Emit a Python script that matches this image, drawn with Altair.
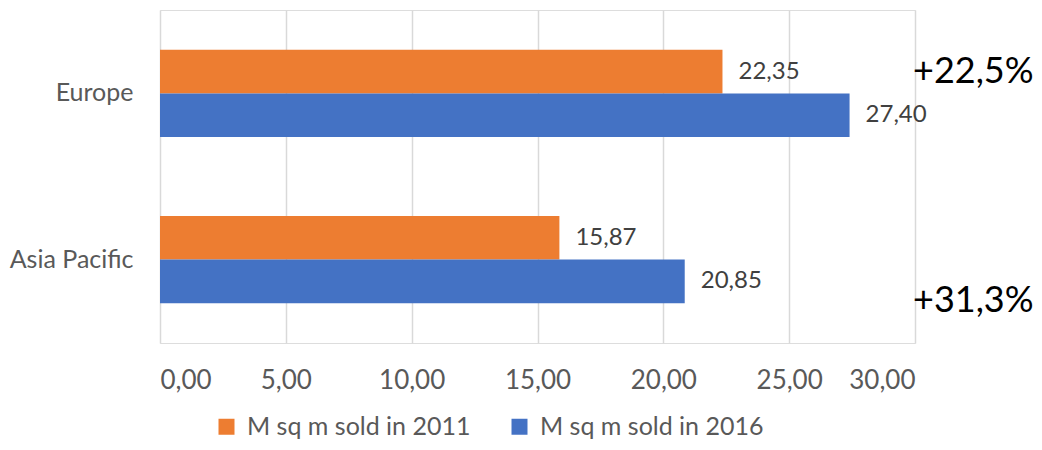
import altair as alt
import pandas as pd

regions = ["Europe", "Asia Pacific"]
series_names = ["M sq m sold in 2011", "M sq m sold in 2016"]
values_2011 = [22.35, 15.87]
values_2016 = [27.40, 20.85]
changes = ["+22,5%", "+31,3%"]
x_ticks = [0, 5, 10, 15, 20, 25, 30]
colors = ["#ED7D31", "#4472C4"]

rows = []
for r, a, b in zip(regions, values_2011, values_2016):
    rows.append({"region": r, "series": series_names[0], "value": a})
    rows.append({"region": r, "series": series_names[1], "value": b})
df = pd.DataFrame(rows)
df["label"] = df["value"].map(lambda v: f"{v:.2f}".replace(".", ","))

ann = pd.DataFrame({"region": regions, "text": changes, "x": [30, 30]})

FONT = "Lato"

y_enc = alt.Y(
    "region:N",
    sort=regions,
    scale=alt.Scale(paddingInner=0.475, paddingOuter=0.24),
    axis=alt.Axis(
        title=None, domain=False, ticks=False, tickSize=0, grid=False,
        labelPadding=27, labelFontSize=25, labelColor="#595959", labelFont=FONT,
        labelLimit=300,
    ),
)
yoff_enc = alt.YOffset("series:N", sort=series_names,
                       scale=alt.Scale(paddingInner=0, paddingOuter=0))
x_enc = alt.X(
    "value:Q",
    scale=alt.Scale(domain=[0, 30], nice=False),
    axis=alt.Axis(
        values=x_ticks, title=None, domain=False, ticks=False, tickSize=0,
        labelExpr="replace(format(datum.value, '.2f'), '.', ',')",
        gridColor="#d9d9d9", gridWidth=1.5,
        labelPadding=24, labelFontSize=26, labelColor="#595959", labelFont=FONT,
    ),
)

base = alt.Chart(df)

bars = base.mark_bar().encode(
    x=x_enc,
    y=y_enc,
    yOffset=yoff_enc,
    color=alt.Color(
        "series:N",
        sort=series_names,
        scale=alt.Scale(domain=series_names, range=colors),
        legend=alt.Legend(
            orient="none", direction="horizontal", legendX=54, legendY=404,
            title=None, symbolType="square", symbolSize=256, symbolStrokeWidth=0,
            symbolOpacity=1, labelFontSize=25, labelColor="#595959", labelFont=FONT,
            labelLimit=0, columnPadding=36, labelOffset=8, padding=0,
        ),
    ),
)

labels = base.mark_text(
    align="left", baseline="middle", dx=16, fontSize=24, color="#404040", font=FONT
).encode(
    x="value:Q",
    y=alt.Y("region:N", sort=regions),
    yOffset=alt.YOffset("series:N", sort=series_names),
    text="label:N",
)

ann_eu = alt.Chart(ann[ann["region"] == regions[0]]).mark_text(
    align="left", baseline="middle", dx=-2, dy=-21, fontSize=36, color="#000000", font=FONT
).encode(
    x="x:Q",
    y=alt.Y("region:N", sort=regions),
    text="text:N",
)
ann_ap = alt.Chart(ann[ann["region"] == regions[1]]).mark_text(
    align="left", baseline="middle", dx=-2, dy=41, fontSize=36, color="#000000", font=FONT
).encode(
    x="x:Q",
    y=alt.Y("region:N", sort=regions),
    text="text:N",
)

chart = (
    alt.layer(bars, labels, ann_eu, ann_ap)
    .properties(
        width=755,
        height=333,
        autosize=alt.AutoSizeParams(type="none"),
        padding={"left": 152, "top": 2, "right": 119, "bottom": 99},
    )
    .configure_view(stroke=None)
    .configure(font=FONT)
)

chart.save("out.html", embed_options={"renderer": "svg", "actions": False})
